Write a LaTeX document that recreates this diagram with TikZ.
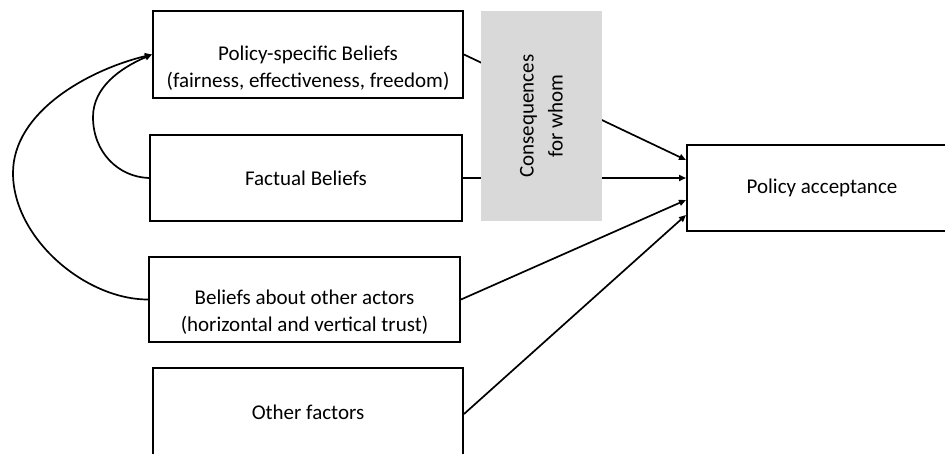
\documentclass[tikz,border=0pt]{standalone}
\usepackage{fontspec}
\setmainfont{Carlito}
\usetikzlibrary{arrows.meta}
\definecolor{lightgrey}{HTML}{D9D9D9}
\begin{document}
\begin{tikzpicture}[x=1pt,y=-1pt,
  box/.style={draw=black, line width=2pt, inner sep=0pt, rectangle},
  lbl/.style={font=\fontsize{21}{27}\selectfont, align=center, inner sep=0pt},
  conn/.style={line width=1.7pt, -{Triangle[length=7pt,width=6pt]}},
]
\clip (0,0) rectangle (945,453);
\fill[white] (0,0) rectangle (945,453);

\node[box, minimum width=310pt, minimum height=87pt] (b1) at (308,54.5) {};
\node[lbl] (t1) at (308,68) {Policy-specific Beliefs\\(fairness, effectiveness, freedom)};

\node[box, minimum width=312pt, minimum height=86pt] (b2) at (306,178) {};
\node[lbl] (t2) at (306,178) {Factual Beliefs};

\node[box, minimum width=311pt, minimum height=85pt] (b3) at (304.5,299.5) {};
\node[lbl] (t3) at (304.5,312) {Beliefs about other actors\\(horizontal and vertical trust)};

\node[box, minimum width=310pt, minimum height=92pt] (b4) at (308,414) {};
\node[lbl] (t4) at (308,412) {Other factors};

\node[box, minimum width=270pt, minimum height=86pt] (pa) at (822,188) {};
\node[lbl] (tpa) at (822,188) {Policy acceptance};

\draw[conn] (b1.east) -- ([yshift=28pt]pa.west);
\draw[conn] (b2.east) -- (b2.east -| pa.west);

\node[fill=lightgrey, minimum width=121pt, minimum height=210pt, inner sep=0pt] (g) at (541.5,116) {};
\node[lbl, rotate=90, font=\fontsize{21}{29}\selectfont] (tg) at (541.5,116) {Consequences\\for whom};

\draw[conn] (b3.east) -- ([yshift=-12pt]pa.west);
\draw[conn] (b4.east) -- ([yshift=-27pt]pa.west);

\draw[conn] (b2.west) .. controls (118,177) and (93,152) .. (93,117)
  .. controls (93,87) and (121,67.7) .. (b1.west);
\draw[conn] (b3.west) .. controls (85,299.5) and (13,238) .. (13,173)
  .. controls (13,112) and (88,70) .. (b1.west);
\end{tikzpicture}
\end{document}
